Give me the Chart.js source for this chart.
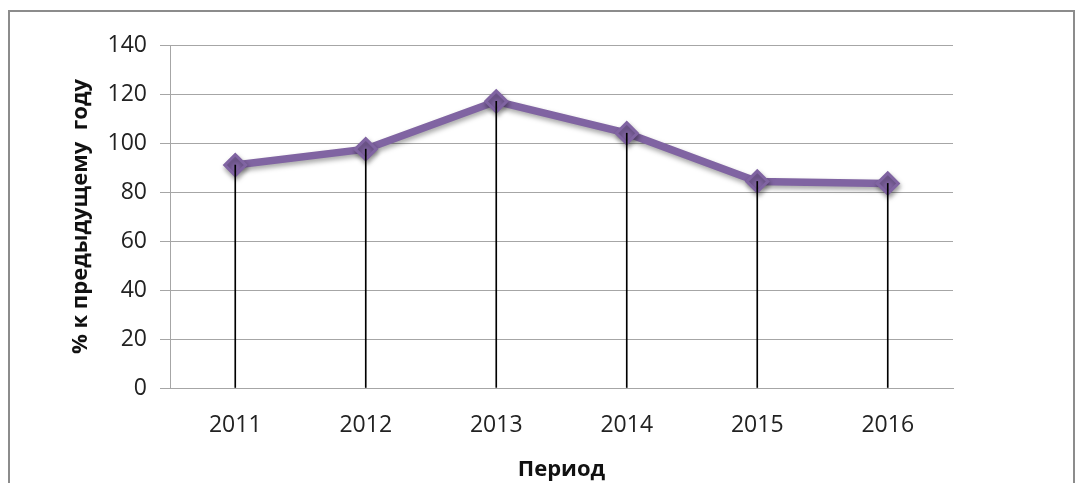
<!DOCTYPE html>
<html>
<head>
<meta charset="utf-8">
<script src="https://cdn.jsdelivr.net/npm/chart.js@4.4.1/dist/chart.umd.min.js"></script>
<style>
  html, body { margin: 0; padding: 0; background: #fff; }
  #wrap { position: relative; width: 1089px; height: 483px; overflow: hidden; }
  #frame { position: absolute; left: 8px; top: 10px; width: 1067px; height: 520px; border: 2px solid #8c8c8c; box-sizing: border-box; }
  canvas { position: absolute; left: 0; top: 0; }
</style>
</head>
<body>
<div id="wrap">
  <div id="frame"></div>
  <canvas id="c" width="1089" height="483"></canvas>
</div>
<script>
const categories = ["2011", "2012", "2013", "2014", "2015", "2016"];
const values = [91.0, 97.5, 117.0, 104.0, 84.3, 83.5];
const yTicks = [0, 20, 40, 60, 80, 100, 120, 140];
const yTitle = "% к предыдущему  году";
const xTitle = "Период";

const shadowPlugin = {
  id: 'lineShadow',
  beforeDatasetDraw(chart, args) {
    if (args.meta.type === 'line') {
      const ctx = chart.ctx;
      ctx.save();
      ctx.shadowColor = 'rgba(0,0,0,0.35)';
      ctx.shadowBlur = 5;
      ctx.shadowOffsetX = 1;
      ctx.shadowOffsetY = 3;
    }
  },
  afterDatasetDraw(chart, args) {
    if (args.meta.type === 'line') chart.ctx.restore();
  }
};

new Chart(document.getElementById('c'), {
  data: {
    labels: categories,
    datasets: [
      {
        type: 'bar',
        data: values,
        backgroundColor: '#000000',
        barThickness: 1,
        order: 0
      },
      {
        type: 'line',
        data: values,
        borderColor: '#8064A2',
        backgroundColor: '#8064A2',
        borderWidth: 7.5,
        pointStyle: 'rectRot',
        pointRadius: 10.5,
        pointBorderWidth: 3,
        pointBorderColor: '#8064A2',
        pointBackgroundColor: '#8064A2',
        tension: 0,
        order: 1
      }
    ]
  },
  options: {
    responsive: false,
    animation: false,
    events: [],
    layout: { padding: { left: 60, right: 136, top: 45, bottom: 0 } },
    plugins: { legend: { display: false }, tooltip: { enabled: false } },
    scales: {
      x: {
        type: 'category',
        offset: true,
        grid: { display: false, drawTicks: false },
        border: { display: true, color: '#a6a6a6', width: 1 },
        ticks: { color: '#222', font: { family: 'Open Sans', size: 23 }, padding: 24, maxRotation: 0 },
        title: { display: true, text: xTitle, color: '#111', font: { family: 'Open Sans', size: 22, weight: 'bold' }, padding: { top: 7, bottom: 0 } },
        afterFit(s) { s.height = 95; }
      },
      y: {
        min: 0,
        max: 140,
        afterBuildTicks(s) { s.ticks = yTicks.map(v => ({ value: v })); },
        grid: { color: '#a6a6a6', lineWidth: 1, tickLength: 10, drawTicks: true },
        border: { display: true, color: '#a6a6a6', width: 1 },
        ticks: { color: '#222', font: { family: 'Open Sans', size: 23 }, padding: 13 },
        title: { display: true, text: yTitle, color: '#111', font: { family: 'Open Sans', size: 22, weight: 'bold' }, padding: { top: 8, bottom: 8 } },
        afterFit(s) { s.width = 110; }
      }
    }
  },
  plugins: [shadowPlugin]
});
</script>
</body>
</html>
